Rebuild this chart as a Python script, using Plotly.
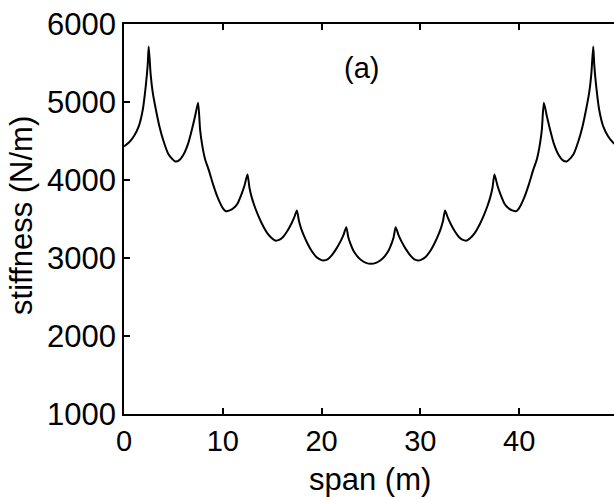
import plotly.graph_objects as go

# span positions (m) and stiffness (N/m)
span_m = [0, 0.5, 1.0, 1.5, 1.9, 2.2, 2.4, 2.5,
          2.7, 2.9, 3.2, 3.6, 4.0, 4.5, 5.0, 5.2, 5.6, 6.0, 6.5, 6.9, 7.2, 7.5,
          7.7, 7.9, 8.2, 8.6, 9.0, 9.5, 10.0, 10.3, 10.7, 11.1, 11.5, 11.9, 12.2, 12.5,
          12.7, 12.9, 13.2, 13.6, 14.0, 14.5, 15.0, 15.3, 15.7, 16.1, 16.5, 16.9, 17.2, 17.5,
          17.7, 17.9, 18.2, 18.6, 19.0, 19.5, 20.0, 20.2, 20.6, 21.0, 21.5, 21.9, 22.2, 22.5,
          22.7, 22.9, 23.2, 23.6, 24.0, 24.5, 25.0, 25.5, 26.0, 26.4, 26.8, 27.1, 27.3, 27.5,
          27.8, 28.1, 28.5, 29.0, 29.4, 29.8, 30.0, 30.5, 31.0, 31.4, 31.8, 32.1, 32.3, 32.5,
          32.8, 33.1, 33.5, 33.9, 34.3, 34.7, 35.0, 35.5, 36.0, 36.4, 36.8, 37.1, 37.3, 37.5,
          37.8, 38.1, 38.5, 38.9, 39.3, 39.7, 40.0, 40.5, 41.0, 41.4, 41.8, 42.1, 42.3, 42.5,
          42.8, 43.1, 43.5, 44.0, 44.4, 44.8, 45.0, 45.5, 46.0, 46.4, 46.8, 47.1, 47.3, 47.5,
          47.6, 47.8, 48.1, 48.5, 49.0, 49.5, 50.0]

stiffness = [4430, 4480, 4560, 4690, 4900, 5200, 5480, 5712,
             5350, 5130, 4920, 4680, 4500, 4330, 4255, 4237, 4255, 4320, 4470, 4660, 4820, 4990,
             4650, 4460, 4270, 4120, 3950, 3770, 3640, 3600, 3610, 3640, 3700, 3820, 3930, 4072,
             3900, 3790, 3670, 3540, 3430, 3320, 3250, 3224, 3232, 3270, 3340, 3430, 3510, 3609,
             3480, 3390, 3290, 3180, 3090, 3010, 2972, 2968, 2982, 3030, 3120, 3210, 3290, 3395,
             3270, 3190, 3100, 3025, 2975, 2938, 2926, 2938, 2975, 3025, 3100, 3190, 3270, 3395,
             3290, 3210, 3120, 3030, 2982, 2968, 2972, 3010, 3090, 3180, 3290, 3390, 3480, 3609,
             3510, 3430, 3340, 3270, 3232, 3224, 3250, 3320, 3430, 3540, 3670, 3790, 3900, 4072,
             3930, 3820, 3700, 3640, 3610, 3600, 3640, 3770, 3950, 4120, 4270, 4460, 4650, 4990,
             4820, 4660, 4470, 4320, 4255, 4237, 4255, 4330, 4500, 4680, 4920, 5130, 5350, 5712,
             5480, 5200, 4900, 4690, 4560, 4480, 4430]

x_ticks = [0, 10, 20, 30, 40]
y_ticks = [1000, 2000, 3000, 4000, 5000, 6000]

FONT = "Liberation Sans"

fig = go.Figure()
fig.add_trace(go.Scatter(x=span_m, y=stiffness, mode="lines",
                         line=dict(color="black", width=2, shape="spline", smoothing=0.6),
                         showlegend=False, hoverinfo="skip"))

fig.update_layout(
    width=614, height=500,
    margin=dict(l=124, r=0, t=24, b=86),
    paper_bgcolor="white", plot_bgcolor="white",
    font=dict(family=FONT, size=30, color="black"),
    xaxis=dict(range=[0, 49.6], tickvals=x_ticks, ticktext=[str(v) for v in x_ticks],
               showgrid=False, zeroline=False, showline=True, linecolor="black",
               linewidth=2, mirror="ticks", ticks="inside", ticklen=6, tickwidth=1.5,
               tickcolor="black", tickfont=dict(family=FONT, size=29)),
    yaxis=dict(range=[1000, 6000], tickvals=y_ticks, ticktext=[str(v) for v in y_ticks],
               showgrid=False, zeroline=False, showline=True, linecolor="black",
               linewidth=1.5, mirror=False, ticks="inside", ticklen=6, tickwidth=1.5,
               tickcolor="black", tickfont=dict(family=FONT, size=31)),
    yaxis2=dict(range=[1000, 6000], tickvals=y_ticks, overlaying="y", side="right",
                anchor="x", showgrid=False, zeroline=False, showline=False,
                ticks="inside", ticklen=4, tickwidth=1.5, tickcolor="black",
                showticklabels=False),
    annotations=[
        dict(text="(a)", x=24.0, y=5430, xref="x", yref="y", showarrow=False,
             font=dict(family=FONT, size=29), xanchor="center", yanchor="middle"),
        dict(text="span (m)", x=0.502, y=-0.168, xref="paper", yref="paper",
             showarrow=False, font=dict(family=FONT, size=31),
             xanchor="center", yanchor="middle"),
        dict(text="stiffness (N/m)", x=-0.208, y=0.508, xref="paper", yref="paper",
             showarrow=False, textangle=-90, font=dict(family=FONT, size=31),
             xanchor="center", yanchor="middle"),
    ],
)

fig.write_html("out.html")
